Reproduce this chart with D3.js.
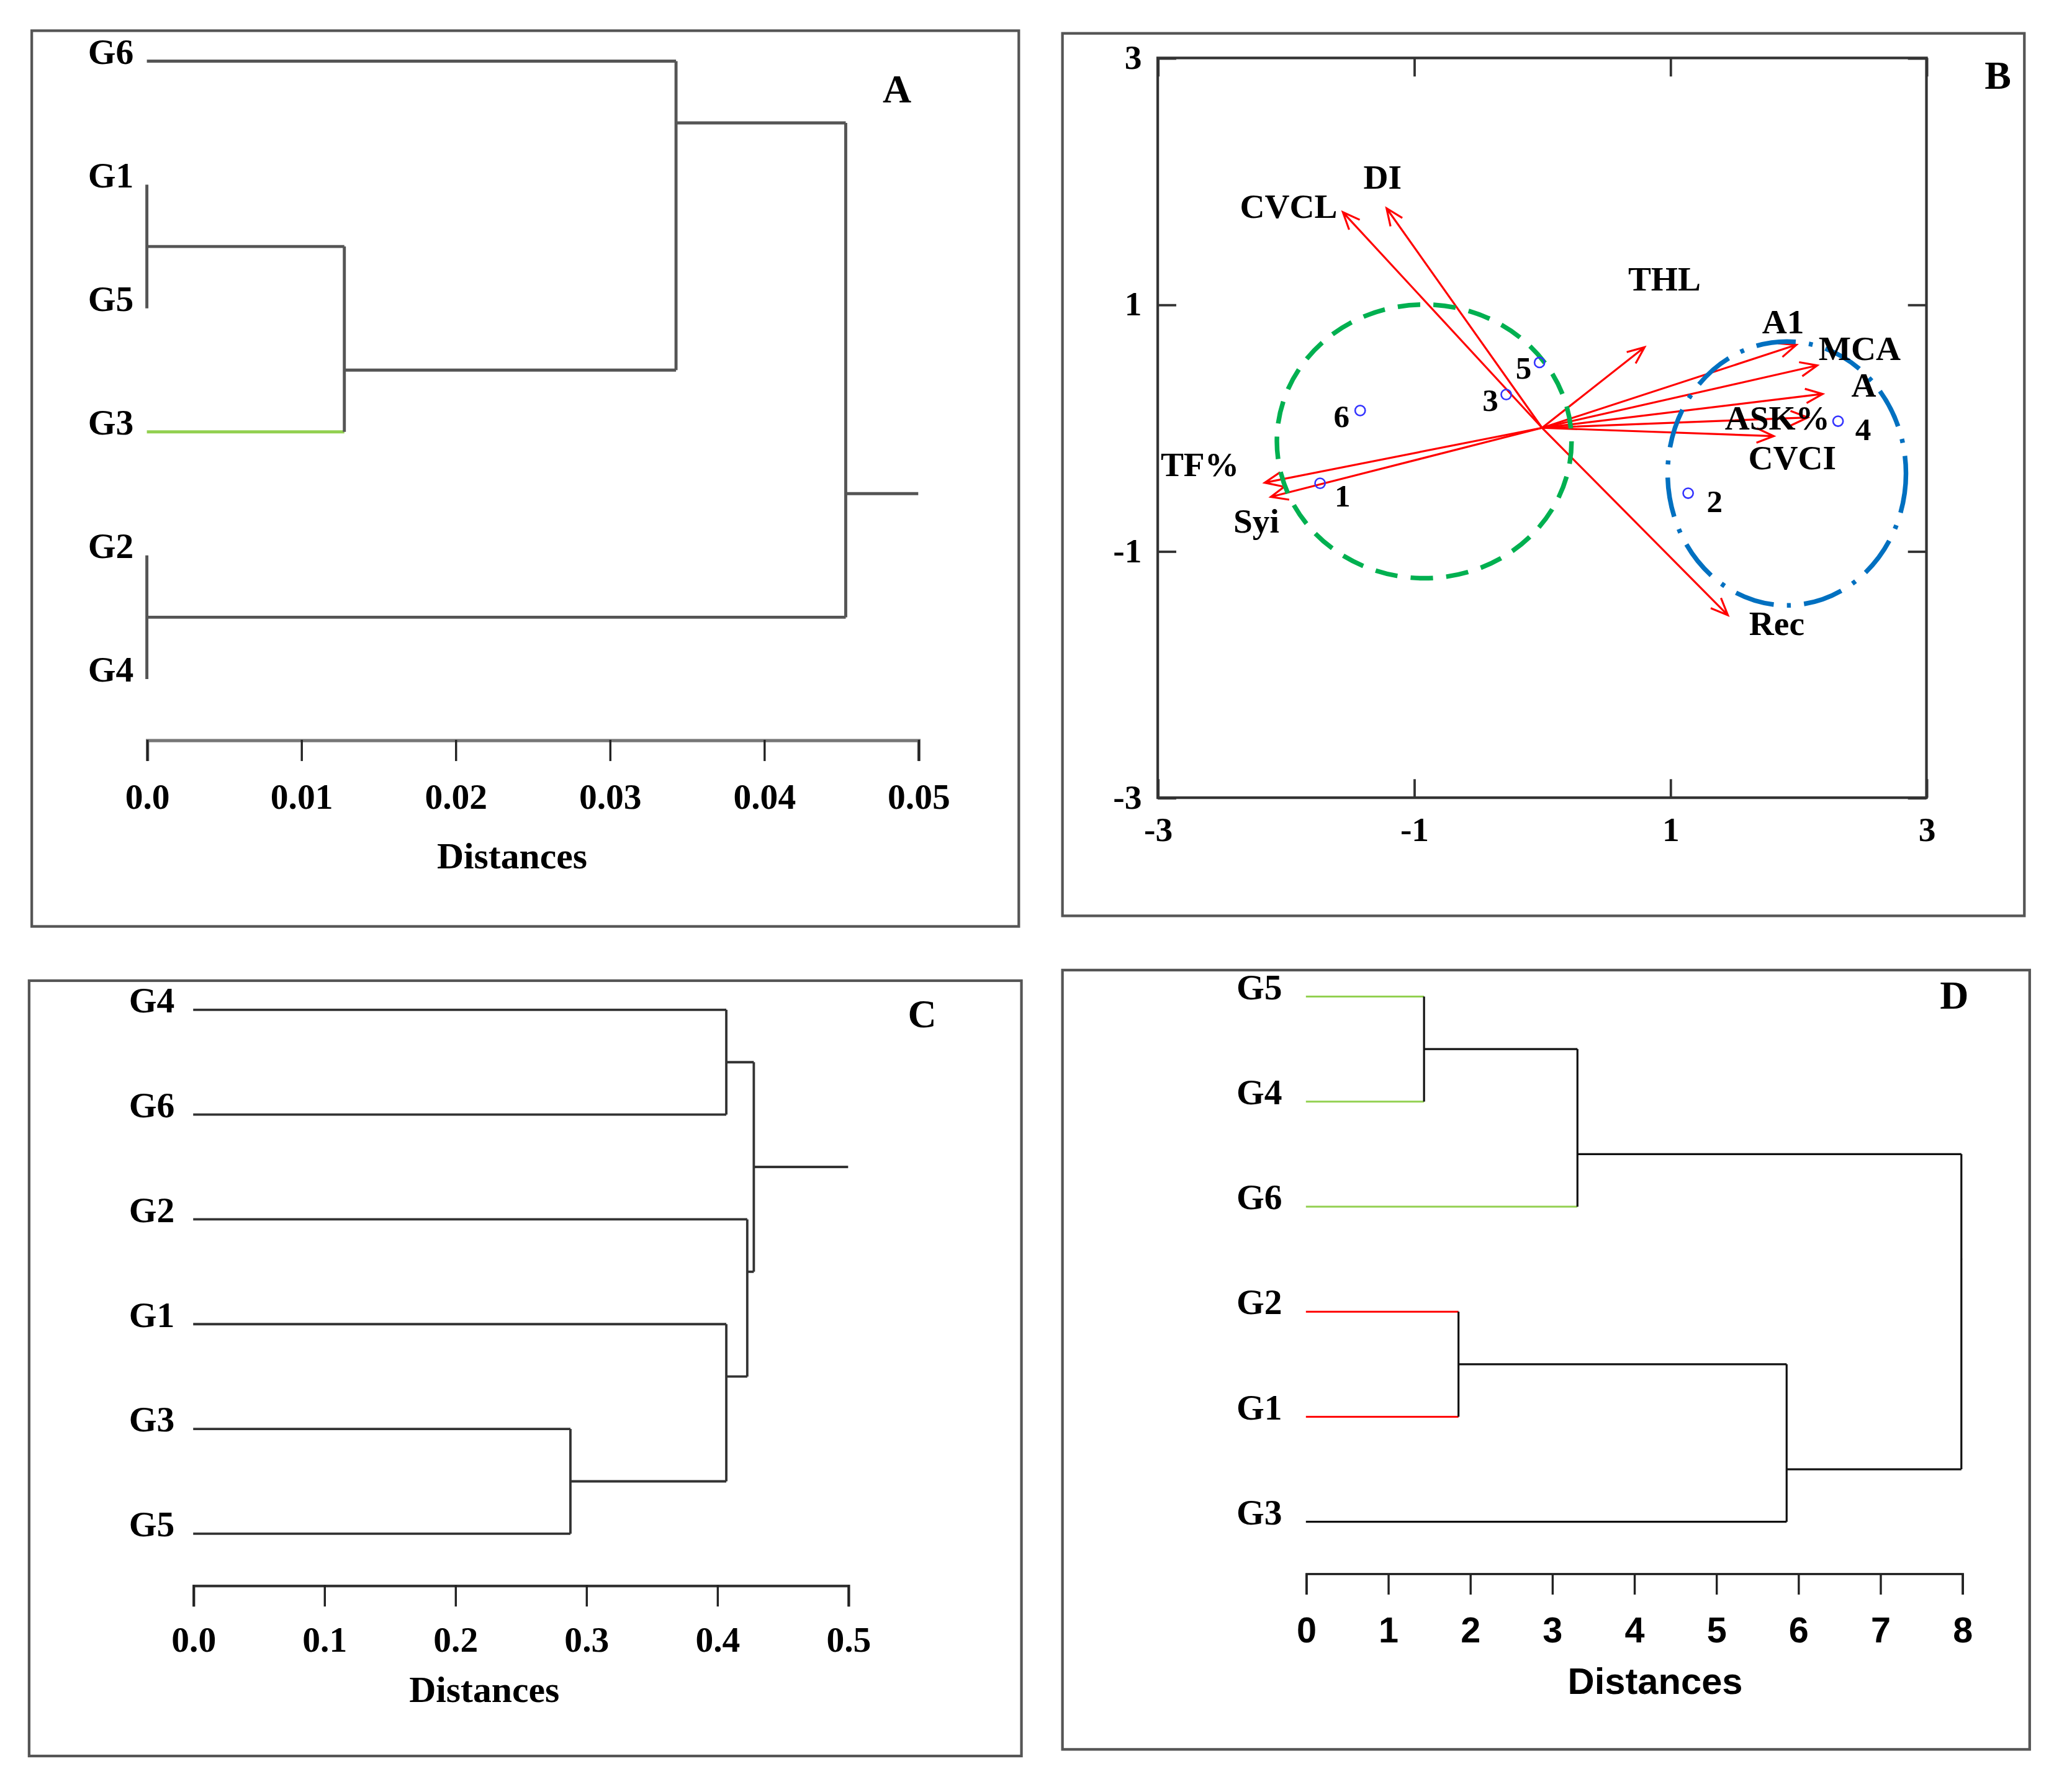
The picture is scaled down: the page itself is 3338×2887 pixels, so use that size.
<!DOCTYPE html>
<html>
<head>
<meta charset="utf-8">
<script src="https://cdn.jsdelivr.net/npm/d3@7"></script>
<style>
  html, body { margin: 0; padding: 0; background: #fff; }
  svg text { font-family: "Liberation Serif", "Times New Roman", serif; font-weight: bold; fill: #000; }
</style>
</head>
<body>
<svg id="fig"></svg>
<script>
// ---------- data ----------
// A: dendrogram, leaves top to bottom; merges are [left, right, distance], "#k" = k-th merge
var leavesA = ["G6", "G1", "G5", "G3", "G2", "G4"];
var mergesA = [["G1", "G5", 0], ["G2", "G4", 0], ["#0", "G3", 0.0128], ["G6", "#2", 0.0343], ["#3", "#1", 0.0453]];
var ticksA = [0, 0.01, 0.02, 0.03, 0.04, 0.05];
var tickLabelsA = ["0.0", "0.01", "0.02", "0.03", "0.04", "0.05"];

// C: dendrogram
var leavesC = ["G4", "G6", "G2", "G1", "G3", "G5"];
var mergesC = [["G3", "G5", 0.288], ["G4", "G6", 0.407], ["G1", "#0", 0.407], ["G2", "#2", 0.423], ["#1", "#3", 0.428]];
var ticksC = [0, 0.1, 0.2, 0.3, 0.4, 0.5];
var tickLabelsC = ["0.0", "0.1", "0.2", "0.3", "0.4", "0.5"];

// D: dendrogram
var leavesD = ["G5", "G4", "G6", "G2", "G1", "G3"];
var mergesD = [["G5", "G4", 1.44], ["G2", "G1", 1.86], ["#0", "G6", 3.31], ["#1", "G3", 5.86], ["#2", "#3", 7.99]];
var ticksD = [0, 1, 2, 3, 4, 5, 6, 7, 8];
var tickLabelsD = ["0", "1", "2", "3", "4", "5", "6", "7", "8"];

// B: biplot, variable vectors and genotype scores
var varNames = ["CVCL", "DI", "THL", "A1", "MCA", "A", "ASK%", "CVCI", "Rec", "TF%", "Syi"];
var varX = [-1.555, -1.214, 0.80, 1.985, 2.148, 2.19, 2.074, 1.808, 1.45, -2.165, -2.117];
var varY = [1.749, 1.781, 0.654, 0.673, 0.506, 0.275, 0.084, -0.067, -1.52, -0.445, -0.56];
var genoNames = ["1", "2", "3", "4", "5", "6"];
var genoX = [-1.733, 1.14, -0.28, 2.31, -0.02, -1.42];
var genoY = [-0.45, -0.53, 0.27, 0.054, 0.53, 0.14];
// group circles: centre x, centre y, radius x, radius y
var groupGreen = [-0.92, -0.11, 1.15, 1.11];
var groupBlue = [1.91, -0.37, 0.93, 1.07];
var ticksB = [-3, -1, 1, 3];
var tickLabelsB = ["-3", "-1", "1", "3"];

// ---------- layout ----------
var W = 1566, H = 1354;
var svg = d3.select("#fig")
    .attr("width", 3338).attr("height", 2887)
    .attr("viewBox", "0 0 " + W + " " + H);
svg.append("rect").attr("width", W).attr("height", H).attr("fill", "#fff");

var GREEN = "#92d050", RED = "#ff0000";

function frame(x0, y0, x1, y1) {
  svg.append("rect").attr("x", x0).attr("y", y0).attr("width", x1 - x0).attr("height", y1 - y0)
     .attr("fill", "none").attr("stroke", "#555").attr("stroke-width", 2);
}

frame(24, 23, 770, 700);
frame(803, 25, 1530, 692);
frame(22, 741, 772, 1327);
frame(803, 733, 1534, 1322);

function dendro(cfg) {
  var g = svg.append("g");
  var x = d3.scaleLinear().domain(cfg.domain).range(cfg.xr);
  var y = d3.scalePoint().domain(cfg.leaves).range(cfg.yr);
  var nodes = {};
  cfg.leaves.forEach(function(l, i) { nodes[l] = {h: 0, y: y(l), lo: i, hi: i, leaf: l}; });
  var made = [];
  function get(k) { return k.charAt(0) == "#" ? made[+k.slice(1)] : nodes[k]; }
  var segs = [];
  cfg.merges.forEach(function(m) {
    var a = get(m[0]), b = get(m[1]);
    var up = a.lo < b.lo ? a : b, dn = a.lo < b.lo ? b : a;
    // join line sits halfway between the two leaves either side of the split
    var yj = (y(cfg.leaves[up.hi]) + y(cfg.leaves[dn.lo])) / 2;
    [a, b].forEach(function(c) {
      segs.push({x1: x(c.h), x2: x(m[2]), y1: c.y, y2: c.y,
                 col: (c.leaf && cfg.leafColor[c.leaf]) || cfg.color});
    });
    segs.push({x1: x(m[2]), x2: x(m[2]), y1: up.y, y2: dn.y, col: cfg.color});
    made.push({h: m[2], y: yj, lo: Math.min(a.lo, b.lo), hi: Math.max(a.hi, b.hi)});
  });
  var root = made[made.length - 1];
  segs.push({x1: x(root.h), x2: x(cfg.domain[1]), y1: root.y, y2: root.y, col: cfg.color});

  g.selectAll("line.seg").data(segs).enter().append("line")
    .attr("x1", function(d) { return d.x1; }).attr("x2", function(d) { return d.x2; })
    .attr("y1", function(d) { return d.y1; }).attr("y2", function(d) { return d.y2; })
    .attr("stroke", function(d) { return d.col; })
    .attr("stroke-width", cfg.width);

  g.selectAll("text.leaf").data(cfg.leaves).enter().append("text")
    .attr("x", cfg.xr[0] - cfg.labelGap)
    .attr("y", function(d) { return y(d) + 2; })
    .attr("text-anchor", "end")
    .style("font-size", "27px")
    .text(function(d) { return d; });

  var ax = g.append("g").attr("transform", "translate(0," + cfg.axisY + ")")
    .call(d3.axisBottom(x).tickValues(cfg.ticks)
      .tickFormat(function(d, i) { return cfg.tickLabels[i]; })
      .tickSize(16).tickSizeOuter(16));
  ax.select(".domain").attr("stroke", cfg.axisColor).attr("stroke-width", cfg.axisWidth);
  ax.selectAll(".tick line").attr("stroke", "#222").attr("stroke-width", 1.6);
  ax.selectAll(".tick text").attr("y", cfg.tickOff).attr("dy", null)
    .style("font-family", cfg.tickFont).style("font-weight", "bold").style("font-size", "27px");

  g.append("text").attr("x", cfg.titleX).attr("y", cfg.axisY + cfg.titleOff)
    .attr("text-anchor", "middle")
    .style("font-family", cfg.tickFont).style("font-size", "28px")
    .text("Distances");

  g.append("text").attr("x", cfg.letter[0]).attr("y", cfg.letter[1])
    .attr("text-anchor", "middle").style("font-size", "30px").text(cfg.letter[2]);
}

var serif = '"Liberation Serif", "Times New Roman", serif';
var sans = '"Liberation Sans", Arial, sans-serif';

dendro({leaves: leavesA, merges: mergesA, ticks: ticksA, tickLabels: tickLabelsA,
  domain: [0, 0.05], xr: [111, 694], yr: [46, 513], axisY: 559, labelGap: 10,
  color: "#555", width: 2.3, leafColor: {G3: GREEN}, axisColor: "#777", axisWidth: 2.5,
  tickFont: serif, tickOff: 52, titleX: 387, titleOff: 97, letter: [678, 77, "A"]});

dendro({leaves: leavesC, merges: mergesC, ticks: ticksC, tickLabels: tickLabelsC,
  domain: [0, 0.5], xr: [146, 641], yr: [763, 1159], axisY: 1198, labelGap: 14,
  color: "#333", width: 1.8, leafColor: {}, axisColor: "#333", axisWidth: 2,
  tickFont: serif, tickOff: 50, titleX: 366, titleOff: 88, letter: [697, 776, "C"]});

dendro({leaves: leavesD, merges: mergesD, ticks: ticksD, tickLabels: tickLabelsD,
  domain: [0, 8], xr: [987, 1483], yr: [753, 1150], axisY: 1189, labelGap: 18,
  color: "#111", width: 1.5, leafColor: {G5: GREEN, G4: GREEN, G6: GREEN, G2: RED, G1: RED},
  axisColor: "#111", axisWidth: 1.6,
  tickFont: sans, tickOff: 52, titleX: 1251, titleOff: 91, letter: [1477, 762, "D"]});

// ---------- B: biplot ----------
var gB = svg.append("g");
var xB = d3.scaleLinear().domain([-3, 3]).range([875, 1456]);
var yB = d3.scaleLinear().domain([-3, 3]).range([602.7, 43.6]);

gB.append("rect").attr("x", xB(-3)).attr("y", yB(3))
  .attr("width", xB(3) - xB(-3)).attr("height", yB(-3) - yB(3))
  .attr("fill", "none").attr("stroke", "#333").attr("stroke-width", 2);

function tickAxis(axis, tx, ty, labels) {
  var a = gB.append("g").attr("transform", "translate(" + tx + "," + ty + ")")
    .call(axis.tickValues(ticksB).tickSize(-14).tickSizeOuter(0)
      .tickFormat(function(d, i) { return labels ? tickLabelsB[i] : ""; }));
  a.select(".domain").remove();
  a.selectAll(".tick line").attr("stroke", "#333").attr("stroke-width", 1.8);
  a.selectAll(".tick text").style("font-size", "26px");
  return a;
}
tickAxis(d3.axisBottom(xB), 0, yB(-3), true).selectAll(".tick text").attr("y", 33).attr("dy", null);
tickAxis(d3.axisTop(xB), 0, yB(3), false);
tickAxis(d3.axisLeft(yB), xB(-3), 0, true).selectAll(".tick text").attr("x", -12).attr("dy", "0.3em");
tickAxis(d3.axisRight(yB), xB(3), 0, false);

// arrows
var ox = xB(0), oy = yB(0);
var head = 14, ang = 0.4;
varNames.forEach(function(n, i) {
  var tx = xB(varX[i]), ty = yB(varY[i]);
  var th = Math.atan2(ty - oy, tx - ox);
  var p = d3.path();
  p.moveTo(ox, oy); p.lineTo(tx, ty);
  p.moveTo(tx - head * Math.cos(th - ang), ty - head * Math.sin(th - ang));
  p.lineTo(tx, ty);
  p.lineTo(tx - head * Math.cos(th + ang), ty - head * Math.sin(th + ang));
  gB.append("path").attr("d", p.toString()).attr("fill", "none")
    .attr("stroke", RED).attr("stroke-width", 1.5);
});

// group circles
gB.append("ellipse")
  .attr("cx", xB(groupGreen[0])).attr("cy", yB(groupGreen[1]))
  .attr("rx", xB(groupGreen[2]) - xB(0)).attr("ry", yB(0) - yB(groupGreen[3]))
  .attr("fill", "none").attr("stroke", "#00b050").attr("stroke-width", 3.5)
  .attr("stroke-dasharray", "17,10");
gB.append("ellipse")
  .attr("cx", xB(groupBlue[0])).attr("cy", yB(groupBlue[1]))
  .attr("rx", xB(groupBlue[2]) - xB(0)).attr("ry", yB(0) - yB(groupBlue[3]))
  .attr("fill", "none").attr("stroke", "#0070c0").attr("stroke-width", 3.5)
  .attr("stroke-dasharray", "30,10,3,10");

// genotype points
gB.selectAll("circle.geno").data(genoNames).enter().append("circle")
  .attr("cx", function(d, i) { return xB(genoX[i]); })
  .attr("cy", function(d, i) { return yB(genoY[i]); })
  .attr("r", 3.8).attr("fill", "none").attr("stroke", "#3333ff").attr("stroke-width", 1.2);

// label nudges (px, relative to arrow tip / point)
var varNudge = {"CVCL": [-41, -5], "DI": [-3, -24], "THL": [15, -52], "A1": [-10, -18],
  "MCA": [32, -13], "A": [31, -7], "ASK%": [-23, 0], "CVCI": [14, 16], "Rec": [37, 6],
  "TF%": [-49, -14], "Syi": [-11, 18]};
var genoNudge = {"1": [17, 9], "2": [20, 6], "3": [-12, 4], "4": [19, 6], "5": [-12, 4], "6": [-14, 4]};

gB.selectAll("text.var").data(varNames).enter().append("text")
  .attr("x", function(d, i) { return xB(varX[i]) + varNudge[d][0]; })
  .attr("y", function(d, i) { return yB(varY[i]) + varNudge[d][1]; })
  .attr("dy", "0.35em").attr("text-anchor", "middle")
  .style("font-size", "26px").text(function(d) { return d; });

gB.selectAll("text.geno").data(genoNames).enter().append("text")
  .attr("x", function(d, i) { return xB(genoX[i]) + genoNudge[d][0]; })
  .attr("y", function(d, i) { return yB(genoY[i]) + genoNudge[d][1]; })
  .attr("dy", "0.35em").attr("text-anchor", "middle")
  .style("font-size", "24px").text(function(d) { return d; });

gB.append("text").attr("x", 1510).attr("y", 67).attr("text-anchor", "middle")
  .style("font-size", "30px").text("B");
</script>
</body>
</html>
